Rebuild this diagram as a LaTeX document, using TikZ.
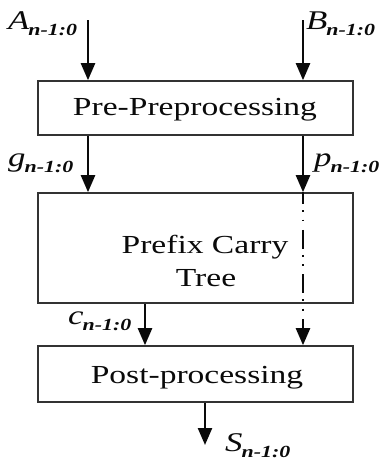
\documentclass[tikz,border=0pt]{standalone}
\usepackage{fontspec}
\setmainfont{Liberation Serif}[FakeStretch=1.29]
\usetikzlibrary{arrows.meta}
\definecolor{boxc}{HTML}{333333}
\definecolor{inkc}{HTML}{0A0A0A}
\newcommand\sigl[1]{{\fontsize{27}{27}\selectfont\itshape #1}\kern-1pt\raisebox{-6pt}{\fontsize{17}{17}\selectfont\bfseries\itshape n-1:0}}
\begin{document}
\begin{tikzpicture}[x=1pt,y=-1pt,
  box/.style={draw=boxc, line width=1.6pt, minimum width=315pt, inner sep=0pt},
  arr/.style={draw=inkc, line width=2.4pt, -{Triangle[length=17pt,width=14pt]}},
  dashdot/.style={dash pattern=on 19pt off 6pt on 1.8pt off 7.5pt on 1.8pt off 8.5pt, dash phase=7pt},
  txt/.style={font=\fontsize{26}{26}\selectfont, anchor=base, inner sep=0pt, text=inkc},
  lbl/.style={anchor=base west, inner sep=0pt, text=inkc}]
\useasboundingbox (0,0) rectangle (381,466);
% boxes
\node[box, minimum height=54pt] (pre) at (195.5,108) {};
\node[box, minimum height=110pt] (tree) at (195.5,248) {};
\node[box, minimum height=56pt] (post) at (195.5,374) {};
% box texts
\node[txt] (pretext) at (195,115) {Pre-Preprocessing};
\node[txt] (treetextA) at (205,253) {Prefix Carry};
\node[txt] (treetextB) at (206,286) {Tree};
\node[txt] (posttext) at (197,383) {Post-processing};
% connector anchors
\coordinate (aTop) at (88,20);
\coordinate (bTop) at (303,20);
\coordinate (cX) at (145,0);
\coordinate (sEnd) at (205,445);
% connectors
\draw[arr] (aTop) -- (aTop |- pre.north);
\draw[arr] (bTop) -- (bTop |- pre.north);
\draw[arr] (pre.south -| aTop) -- (tree.north -| aTop);
\draw[arr] (pre.south -| bTop) -- (tree.north -| bTop);
\draw[arr, dashdot] (tree.north -| bTop) -- (post.north -| bTop);
\draw[arr] (tree.south -| cX) -- (post.north -| cX);
\draw[arr] (post.south -| sEnd) -- (sEnd);
% labels
\node[lbl] (aLbl) at (8,29) {\sigl{A}};
\node[lbl] (bLbl) at (306,29) {\sigl{B}};
\node[lbl] (gLbl) at (8,166) {\sigl{g}};
\node[lbl] (pLbl) at (314,166) {\sigl{p}};
\node[lbl] (cLbl) at (68,324) {\sigl{c}};
\node[lbl] (sLbl) at (225,451) {\sigl{S}};
\end{tikzpicture}
\end{document}
